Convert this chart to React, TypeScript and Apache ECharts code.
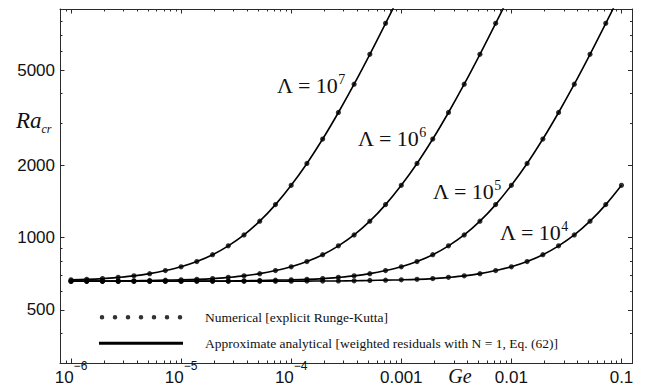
import React, { useEffect, useRef } from "react";
import * as echarts from "echarts";

// Ge grid (7 points per decade)
const GE = [
  1e-6, 1.389e-6, 1.931e-6, 2.683e-6, 3.728e-6, 5.179e-6, 7.197e-6,
  1e-5, 1.389e-5, 1.931e-5, 2.683e-5, 3.728e-5, 5.179e-5, 7.197e-5,
  1e-4, 1.389e-4, 1.931e-4, 2.683e-4, 3.728e-4, 5.179e-4, 7.197e-4,
  1e-3, 1.389e-3, 1.931e-3, 2.683e-3, 3.728e-3, 5.179e-3, 7.197e-3,
  0.01, 0.01389, 0.01931, 0.02683, 0.03728, 0.05179, 0.07197, 0.1,
];

// Ra_cr (last value of the upper curves lies just above the frame)
const RA_L4 = [
  658, 658, 658, 658, 658, 658, 658,
  658, 658, 658, 658, 658, 658, 658,
  658.5, 659, 659.5, 660, 661, 663, 665,
  667, 670, 675, 683, 693, 708, 729,
  756, 795, 849, 925, 1027, 1172, 1374,
  1655,
];
const RA_L5 = [
  658, 658, 658, 658, 658, 658, 658,
  658.5, 659, 659.5, 660, 661, 663, 665,
  667, 670, 675, 683, 693, 708, 729,
  756, 795, 849, 925, 1027, 1172, 1374,
  1655, 2040, 2580, 3330, 4370, 5820, 7840,
  10600,
];
const RA_L6 = [
  658.5, 659, 659.5, 660, 661, 663, 665,
  667, 670, 675, 683, 693, 708, 729,
  756, 795, 849, 925, 1027, 1172, 1374,
  1655, 2040, 2580, 3330, 4370, 5820, 7840,
  10600,
];
const RA_L7 = [
  667, 670, 675, 683, 693, 708, 729,
  756, 795, 849, 925, 1027, 1172, 1374,
  1655, 2040, 2580, 3330, 4370, 5820, 7840,
  10600,
];

const CURVES = [RA_L4, RA_L5, RA_L6, RA_L7];
const LAMBDA_EXP = ["4", "5", "6", "7"];
const LAMBDA_POS = [
  [500, 231],
  [433, 190.5],
  [358, 137],
  [277, 84.5],
];

const X_RANGE = [7.943e-7, 0.1259];
const Y_RANGE = [300, 9000];
const X_MAJOR = [1e-6, 1e-5, 1e-4, 0.001, 0.01, 0.1];
const X_TICK_LABELS = ["10^-6", "10^-5", "10^-4", "0.001", "0.01", "0.1"];
const X_MINOR_MULT = [2, 3, 4, 5, 6, 7, 8, 9];
const Y_MAJOR = [500, 1000, 2000, 5000];
const Y_TICK_LABELS = ["500", "1000", "2000", "5000"];
const Y_MINOR = [300, 400, 600, 700, 800, 900, 3000, 4000, 6000, 7000, 8000, 9000];

const NUM_NAME = "Numerical [explicit Runge-Kutta]";
const APPROX_NAME = "Approximate analytical [weighted residuals with N = 1, Eq. (62)]";

const SERIF = "Liberation Serif";
const SANS = "Liberation Sans";
const INK = "#111";
const FRAME = "#2a2a2a";

const L = (v: number) => Math.log10(v);

const DOTS_ICON =
  "path://M0,0M84,4.6" +
  [3, 16, 29, 42, 55, 68, 81]
    .map((c) => `M${c - 2.3},2.3a2.3,2.3 0 1,0 4.6,0a2.3,2.3 0 1,0 -4.6,0z`)
    .join("");
const LINE_ICON = "path://M0,0h84v3h-84z";

function buildOption() {
  const xMinor: number[] = [0.9 * X_MAJOR[0]];
  X_MAJOR.slice(0, -1).forEach((d) => X_MINOR_MULT.forEach((m) => xMinor.push(d * m)));
  const xMajorL = X_MAJOR.map(L);
  const xMinorL = xMinor.map(L);
  const yMajorL = Y_MAJOR.map(L);
  const yMinorL = Y_MINOR.map(L);

  const xFormatter = (v: number) => {
    const i = xMajorL.findIndex((t) => Math.abs(t - v) < 1e-6);
    if (i < 0) return "";
    const s = X_TICK_LABELS[i];
    if (s.includes("^")) {
      const [b, e] = s.split("^");
      return `{b|${b}}{s|${e.replace("-", "\u2212")}}`;
    }
    return `{b|${s}}`;
  };
  const yFormatter = (v: number) => {
    const i = yMajorL.findIndex((t) => Math.abs(t - v) < 1e-6);
    return i < 0 ? "" : Y_TICK_LABELS[i];
  };

  const xBase = (pos: "bottom" | "top", ticks: number[], len: number, labels: boolean, line: boolean) => ({
    type: "value",
    position: pos,
    min: L(X_RANGE[0]),
    max: L(X_RANGE[1]),
    axisLine: { show: line, onZero: false, lineStyle: { color: FRAME, width: 1 } },
    axisTick: { show: true, inside: true, length: len, customValues: ticks, lineStyle: { color: FRAME, width: 1 } },
    axisLabel: labels
      ? {
          show: true,
          customValues: xMajorL,
          formatter: xFormatter,
          margin: 10,
          verticalAlign: "middle",
          rich: {
            b: { fontFamily: SANS, fontSize: 17, lineHeight: 26, verticalAlign: "bottom", color: INK },
            s: { fontFamily: SANS, fontSize: 12, lineHeight: 12, verticalAlign: "top", color: INK },
          },
        }
      : { show: false },
    splitLine: { show: false },
  });
  const yBase = (pos: "left" | "right", ticks: number[], len: number, labels: boolean, line: boolean) => ({
    type: "value",
    position: pos,
    min: L(Y_RANGE[0]),
    max: L(Y_RANGE[1]),
    axisLine: { show: line, onZero: false, lineStyle: { color: FRAME, width: 1 } },
    axisTick: { show: true, inside: true, length: len, customValues: ticks, lineStyle: { color: FRAME, width: 1 } },
    axisLabel: labels
      ? {
          show: true,
          customValues: yMajorL,
          formatter: yFormatter,
          margin: 5,
          fontFamily: SANS,
          fontSize: 17,
          color: INK,
        }
      : { show: false },
    splitLine: { show: false },
  });

  const series: any[] = [];
  CURVES.forEach((ra) => {
    const data = ra.map((r, i) => [L(GE[i]), L(r)]);
    series.push({
      type: "line",
      name: APPROX_NAME,
      data,
      xAxisIndex: 0,
      yAxisIndex: 0,
      symbol: "none",
      showSymbol: false,
      smooth: 0.35,
      clip: true,
      color: "#000",
      lineStyle: { color: "#000", width: 1.6 },
      silent: true,
      z: 2,
    });
    series.push({
      type: "scatter",
      name: NUM_NAME,
      data,
      xAxisIndex: 0,
      yAxisIndex: 0,
      symbol: "circle",
      symbolSize: 5.2,
      clip: true,
      color: "#000",
      itemStyle: { color: "#000" },
      silent: true,
      z: 3,
    });
  });

  const legendText = () => ({ fontFamily: SERIF, fontSize: 13.5, color: INK, padding: [0, 0, 0, 17] });

  const graphic: any[] = LAMBDA_EXP.map((e, i) => ({
    type: "text",
    x: LAMBDA_POS[i][0],
    y: LAMBDA_POS[i][1],
    silent: true,
    style: {
      legacy: false,
      text: `{a|\u039B = 10}{s|${e}}`,
      align: "left",
      verticalAlign: "middle",
      fill: INK,
      rich: {
        a: { fontFamily: SERIF, fontSize: 22, lineHeight: 24, verticalAlign: "bottom", fill: INK },
        s: { fontFamily: SERIF, fontSize: 14, lineHeight: 12, verticalAlign: "top", fill: INK },
      },
    },
  }));
  graphic.push({
    type: "text",
    x: 16,
    y: 122,
    silent: true,
    style: {
      legacy: false,
      text: "{r|Ra}{c|cr}",
      align: "left",
      verticalAlign: "middle",
      fill: INK,
      rich: {
        r: { fontFamily: SERIF, fontStyle: "italic", fontSize: 23, lineHeight: 26, verticalAlign: "top", fill: INK },
        c: { fontFamily: SERIF, fontStyle: "italic", fontSize: 12, lineHeight: 12, verticalAlign: "bottom", fill: INK },
      },
    },
  });
  graphic.push({
    type: "text",
    x: 460,
    y: 375.5,
    silent: true,
    style: {
      legacy: false,
      text: "Ge",
      fontFamily: SERIF,
      fontStyle: "italic",
      fontSize: 20,
      lineHeight: 16,
      fill: INK,
      align: "center",
      verticalAlign: "middle",
    },
  });

  return {
    animation: false,
    backgroundColor: "#fff",
    grid: { left: 60, right: 17.5, top: 9, bottom: 23, containLabel: false, outerBoundsMode: "none" },
    xAxis: [
      xBase("bottom", xMajorL, 4.5, true, true),
      xBase("bottom", xMinorL, 2.5, false, false),
      xBase("top", xMajorL, 4.5, false, true),
      xBase("top", xMinorL, 2.5, false, false),
    ],
    yAxis: [
      yBase("left", yMajorL, 4.5, true, true),
      yBase("left", yMinorL, 2.5, false, false),
      yBase("right", yMajorL, 4.5, false, true),
      yBase("right", yMinorL, 2.5, false, false),
    ],
    legend: [
      {
        data: [{ name: NUM_NAME, icon: DOTS_ICON }],
        left: 99,
        top: 317 - 6.75,
        padding: 0,
        orient: "vertical",
        itemWidth: 84,
        itemHeight: 4.6,
        selectedMode: false,
        itemStyle: { color: "#000", borderWidth: 0 },
        textStyle: legendText(),
      },
      {
        data: [{ name: APPROX_NAME, icon: LINE_ICON }],
        left: 99,
        top: 343 - 6.75,
        padding: 0,
        orient: "vertical",
        itemWidth: 84,
        itemHeight: 3,
        selectedMode: false,
        itemStyle: { color: "#000", borderWidth: 0 },
        textStyle: legendText(),
      },
    ],
    graphic,
    series,
  };
}

export default function App() {
  const ref = useRef<HTMLDivElement>(null);
  useEffect(() => {
    if (!ref.current) return;
    const chart = echarts.init(ref.current, undefined, { renderer: "svg" });
    chart.setOption(buildOption() as any);
    return () => chart.dispose();
  }, []);
  return (
    <div
      ref={ref}
      style={{ position: "absolute", left: 0, top: 0, width: 650, height: 386, background: "#fff" }}
    />
  );
}
